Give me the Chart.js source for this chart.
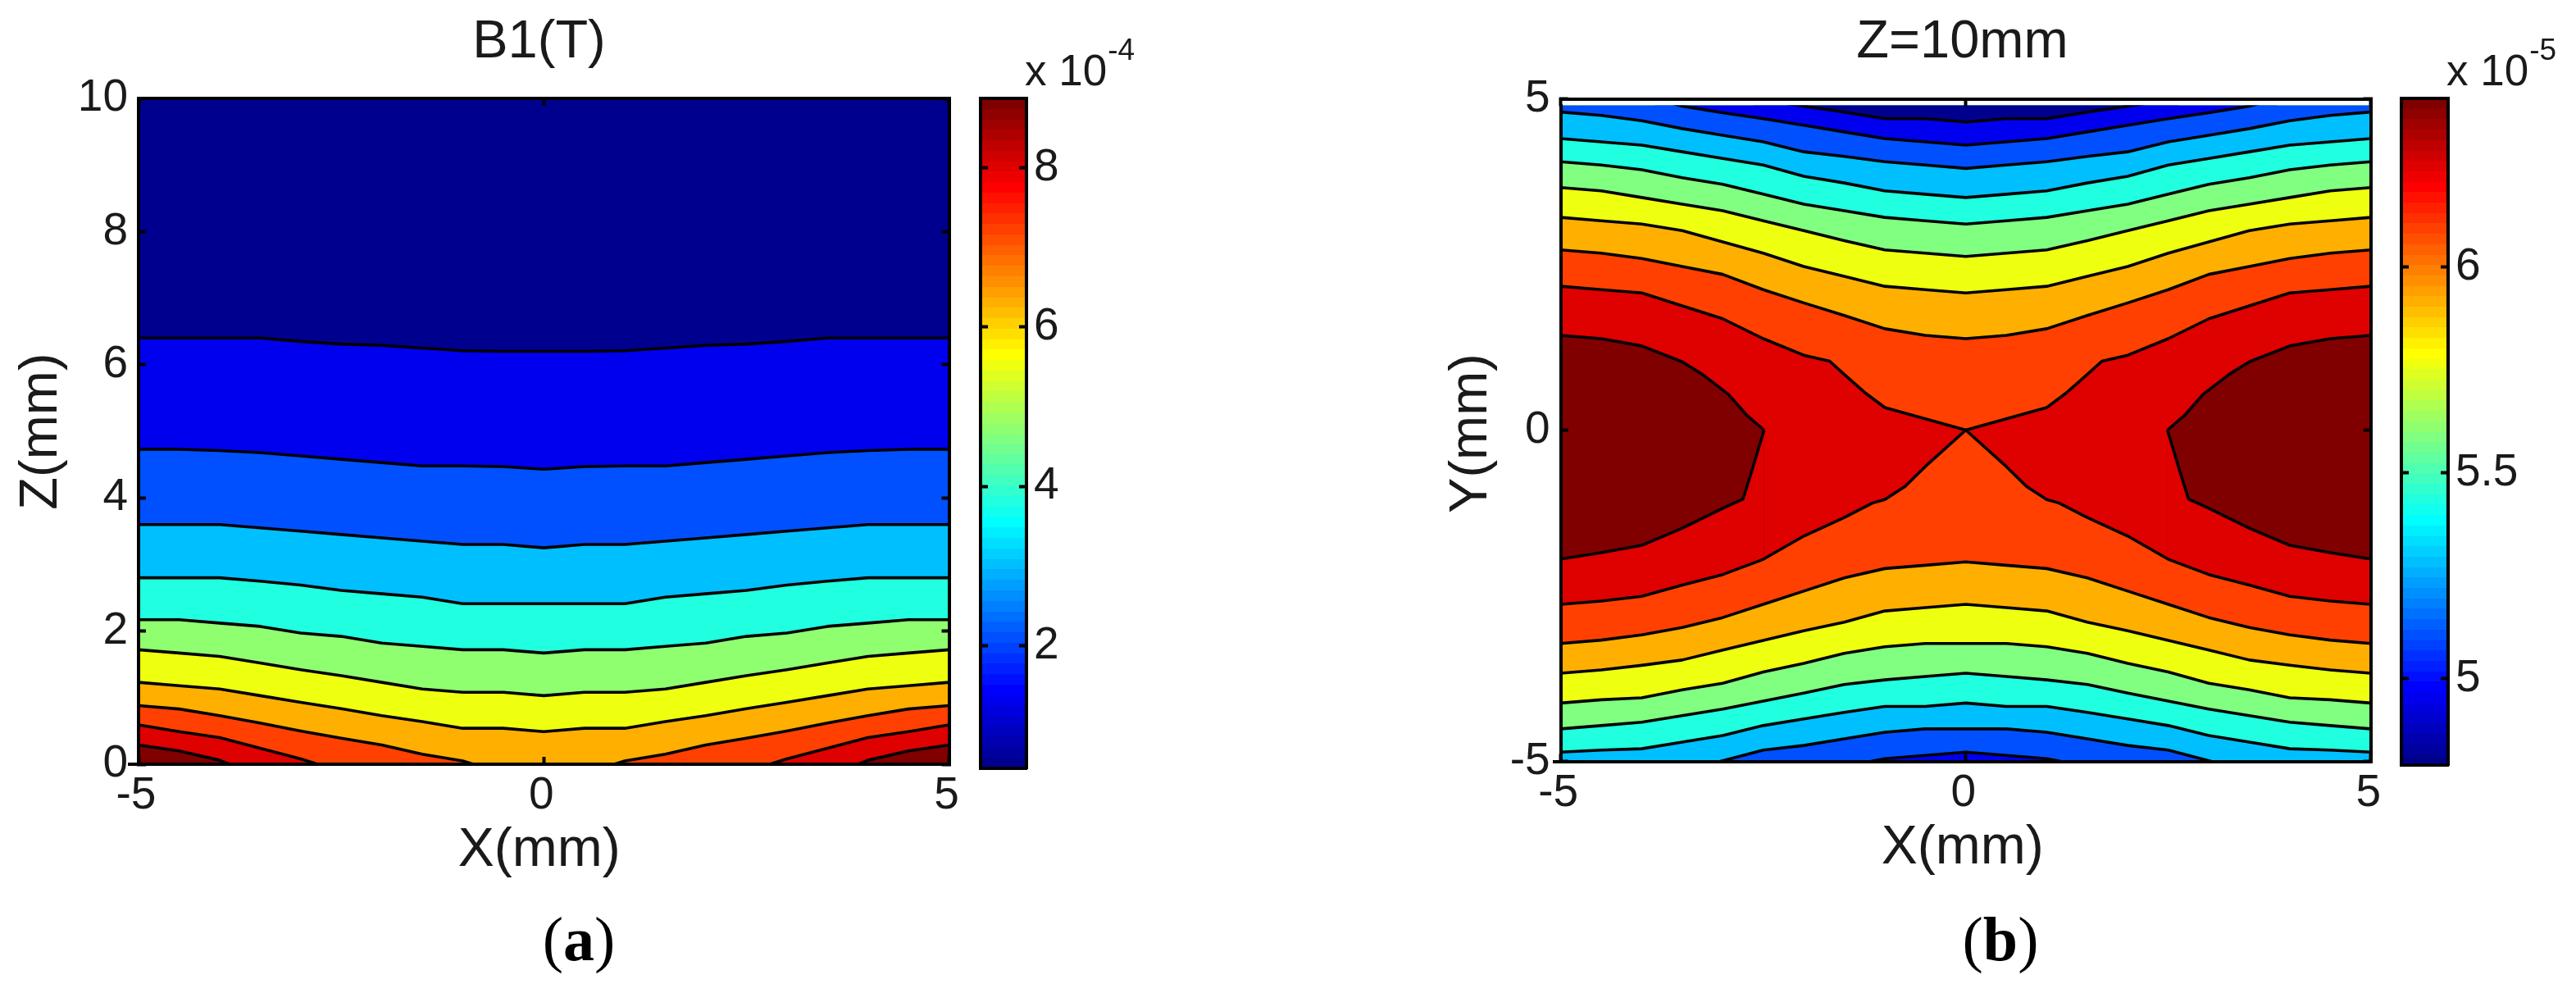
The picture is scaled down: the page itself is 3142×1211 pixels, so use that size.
<!DOCTYPE html>
<html><head><meta charset="utf-8">
<style>
html,body{margin:0;padding:0;background:#fff;width:3142px;height:1211px;overflow:hidden}
canvas{position:absolute;top:0}
.t{position:absolute;font-family:"Liberation Sans",Arial,sans-serif;color:#1a1a1a;white-space:nowrap;line-height:1}
.t sup{font-size:37px;position:relative;top:-31px;vertical-align:baseline;line-height:0;margin-left:1px}
.cap{position:absolute;font-family:"Liberation Serif",serif;color:#000;font-size:76px;line-height:1;white-space:nowrap;transform:translateX(-50%)}
</style>
<script src="https://cdn.jsdelivr.net/npm/chart.js@4/dist/chart.umd.js"></script>
</head><body>
<canvas id="pa"></canvas><canvas id="pb"></canvas><canvas id="ca"></canvas><canvas id="cb"></canvas>
<div class="t" style="left:1250px;top:59px;font-size:53px">x 10<sup>-4</sup></div>
<div class="t" style="left:2984px;top:59px;font-size:53px">x 10<sup>-5</sup></div>
<div class="cap" style="left:706px;top:1107px">(<b>a</b>)</div>
<div class="cap" style="left:2440px;top:1107px">(<b>b</b>)</div>
<script>
// ---------- Tick labels ----------
const aXTicks=[-5,0,5];
const aYTicks=[0,2,4,6,8,10];
const bXTicks=[-5,0,5];
const bYTicks=[-5,0,5];
const aBarTicks=[2,4,6,8];
const bBarTicks=[5,5.5,6];
const aBarRange=[0.46,8.87];
const bBarRange=[4.79,6.41];

// ---------- Colormap (jet, 64 levels, low to high) ----------
const jet=['#00008F','#00009F','#0000AF','#0000BF','#0000CF','#0000DF','#0000EF','#0000FF','#0010FF','#0020FF','#0030FF','#0040FF','#0050FF','#0060FF','#0070FF','#0080FF','#008FFF','#009FFF','#00AFFF','#00BFFF','#00CFFF','#00DFFF','#00EFFF','#00FFFF','#10FFEF','#20FFDF','#30FFCF','#40FFBF','#50FFAF','#60FF9F','#70FF8F','#80FF80','#8FFF70','#9FFF60','#AFFF50','#BFFF40','#CFFF30','#DFFF20','#EFFF10','#FFFF00','#FFEF00','#FFDF00','#FFCF00','#FFBF00','#FFAF00','#FF9F00','#FF8F00','#FF8000','#FF7000','#FF6000','#FF5000','#FF4000','#FF3000','#FF2000','#FF1000','#FF0000','#EF0000','#DF0000','#CF0000','#BF0000','#AF0000','#9F0000','#8F0000','#800000'];

// ---------- Panel (a): contour lines, Z at each X ----------
const aX=[-5,-4.5,-4,-3.5,-3,-2.5,-2,-1.5,-1,-0.5,0,0.5,1,1.5,2,2.5,3,3.5,4,4.5,5];
const aC1=[6.40,6.40,6.40,6.40,6.35,6.31,6.29,6.25,6.21,6.20,6.20,6.20,6.21,6.25,6.29,6.31,6.35,6.40,6.40,6.40,6.40];
const aC2=[4.73,4.73,4.71,4.68,4.63,4.58,4.53,4.48,4.48,4.47,4.43,4.47,4.48,4.48,4.53,4.58,4.63,4.68,4.71,4.73,4.73];
const aC3=[3.60,3.60,3.60,3.55,3.50,3.45,3.40,3.35,3.30,3.30,3.25,3.30,3.30,3.35,3.40,3.45,3.50,3.55,3.60,3.60,3.60];
const aC4=[2.80,2.80,2.80,2.75,2.69,2.61,2.56,2.51,2.41,2.41,2.41,2.41,2.41,2.51,2.56,2.61,2.69,2.75,2.80,2.80,2.80];
const aC5=[2.17,2.17,2.12,2.07,1.97,1.92,1.82,1.77,1.72,1.72,1.67,1.72,1.72,1.77,1.82,1.92,1.97,2.07,2.12,2.17,2.17];
const aC6=[1.72,1.67,1.62,1.52,1.42,1.33,1.23,1.13,1.08,1.08,1.03,1.08,1.08,1.13,1.23,1.33,1.42,1.52,1.62,1.67,1.72];
const aC7=[1.23,1.18,1.13,1.03,0.93,0.835,0.73,0.64,0.54,0.54,0.49,0.54,0.54,0.64,0.73,0.835,0.93,1.03,1.13,1.18,1.23];
const aC8X=[-5,-4.5,-4,-3.5,-3,-2.5,-2,-1.5,-1,-0.87,0.87,1,1.5,2,2.5,3,3.5,4,4.5,5];
const aC8=[0.88,0.83,0.73,0.62,0.50,0.39,0.29,0.15,0.05,0,0,0.05,0.15,0.29,0.39,0.50,0.62,0.73,0.83,0.88];
const aC9X=[-5,-4.5,-4,-3.5,-3,-2.79,2.79,3,3.5,4,4.5,5];
const aC9=[0.59,0.49,0.40,0.24,0.08,0,0,0.08,0.24,0.40,0.49,0.59];
const aC10X=[-5,-4.5,-4,-3.88,3.88,4,4.5,5];
const aC10=[0.29,0.20,0.06,0,0,0.06,0.20,0.29];

// ---------- Panel (b): upper contour lines, Y at each X ----------
const bTAX=[-2.63,-2,-1.5,-1,-0.5,0,0.5,1,1.5,2,2.63];
const bTA=[5,4.89,4.80,4.70,4.70,4.65,4.70,4.70,4.80,4.89,5];
const bTBX=[-3.84,-3.5,-3,-2.5,-2,-1.5,-1,-0.5,0,0.5,1,1.5,2,2.5,3,3.5,3.84];
const bTB=[5,4.89,4.79,4.70,4.60,4.50,4.40,4.35,4.30,4.35,4.40,4.50,4.60,4.70,4.79,4.89,5];
const bTX=[-5,-4.5,-4,-3.5,-3,-2.5,-2,-1.5,-1,-0.5,0,0.5,1,1.5,2,2.5,3,3.5,4,4.5,5];
const bTC=[4.80,4.75,4.67,4.55,4.45,4.35,4.20,4.13,4.05,4.00,3.95,4.00,4.05,4.13,4.20,4.35,4.45,4.55,4.67,4.75,4.80];
const bTD=[4.40,4.35,4.30,4.20,4.10,4.00,3.83,3.73,3.61,3.56,3.51,3.56,3.61,3.73,3.83,4.00,4.10,4.20,4.30,4.35,4.40];
const bTE=[4.05,4.00,3.93,3.81,3.71,3.56,3.41,3.31,3.21,3.16,3.11,3.16,3.21,3.31,3.41,3.56,3.71,3.81,3.93,4.00,4.05];
const bTF=[3.66,3.61,3.51,3.41,3.31,3.16,3.01,2.86,2.72,2.67,2.62,2.67,2.72,2.86,3.01,3.16,3.31,3.41,3.51,3.61,3.66];
const bTG=[3.21,3.16,3.11,3.01,2.84,2.67,2.47,2.32,2.17,2.12,2.07,2.12,2.17,2.32,2.47,2.67,2.84,3.01,3.11,3.16,3.21];
const bTHX=[-5,-4.5,-4,-3.5,-3,-2.5,-2,-1.5,-1,-0.5,0,0.5,1,1.5,2,2.5,3,3.5,4,4.5,5];
const bTH=[2.72,2.67,2.59,2.47,2.35,2.12,1.92,1.73,1.53,1.43,1.38,1.43,1.53,1.73,1.92,2.12,2.35,2.47,2.59,2.67,2.72];
const bTIX=[-5,-4.5,-4,-3.5,-3,-2.5,-2,-1.68,-1.5,-1.25,-1,-0.5,0,0.5,1,1.25,1.5,1.68,2,2.5,3,3.5,4,4.5,5];
const bTI=[2.17,2.12,2.07,1.875,1.68,1.38,1.13,1.04,0.84,0.57,0.34,0.17,0,0.17,0.34,0.57,0.84,1.04,1.13,1.38,1.68,1.875,2.07,2.12,2.17];

// ---------- Panel (b): closed high-field lobes ----------
const bLobeUX=[-5,-4.5,-4,-3.5,-3.25,-2.93,-2.7,-2.49];
const bLobeU=[1.43,1.38,1.27,1.03,0.84,0.54,0.22,0];
const bLobeDX=[-5,-4.5,-4,-3.5,-3,-2.75,-2.65,-2.49];
const bLobeD=[-1.945,-1.85,-1.74,-1.48,-1.18,-1.04,-0.65,0];
const bLobeRUX=[2.49,2.7,2.93,3.25,3.5,4,4.5,5];
const bLobeRU=[0,0.22,0.54,0.84,1.03,1.27,1.38,1.43];
const bLobeRDX=[2.49,2.65,2.75,3,3.5,4,4.5,5];
const bLobeRD=[0,-0.65,-1.04,-1.18,-1.48,-1.74,-1.85,-1.945];

// ---------- Panel (b): lower contour lines ----------
const bLIX=[-5,-4.5,-4,-3.5,-3,-2.5,-2,-1.5,-1.15,-1,-0.75,-0.5,0,0.5,0.75,1,1.15,1.5,2,2.5,3,3.5,4,4.5,5];
const bLI=[-2.63,-2.58,-2.51,-2.34,-2.18,-1.95,-1.60,-1.32,-1.10,-1.05,-0.85,-0.55,0,-0.55,-0.85,-1.05,-1.10,-1.32,-1.60,-1.95,-2.18,-2.34,-2.51,-2.58,-2.63];
const bLX=[-5,-4.5,-4,-3.5,-3,-2.5,-2,-1.5,-1,-0.5,0,0.5,1,1.5,2,2.5,3,3.5,4,4.5,5];
const bLH=[-3.22,-3.17,-3.09,-2.98,-2.83,-2.63,-2.43,-2.23,-2.09,-2.04,-1.99,-2.04,-2.09,-2.23,-2.43,-2.63,-2.83,-2.98,-3.09,-3.17,-3.22];
const bLG=[-3.67,-3.62,-3.55,-3.47,-3.32,-3.175,-3.03,-2.90,-2.73,-2.68,-2.63,-2.68,-2.73,-2.90,-3.03,-3.175,-3.32,-3.47,-3.55,-3.62,-3.67];
const bLF=[-4.12,-4.07,-4.04,-3.92,-3.82,-3.65,-3.52,-3.37,-3.27,-3.22,-3.22,-3.22,-3.27,-3.37,-3.52,-3.65,-3.82,-3.92,-4.04,-4.07,-4.12];
const bLE=[-4.51,-4.46,-4.41,-4.31,-4.21,-4.09,-3.97,-3.84,-3.77,-3.72,-3.67,-3.72,-3.77,-3.84,-3.97,-4.09,-4.21,-4.31,-4.41,-4.46,-4.51];
const bLD=[-4.86,-4.83,-4.81,-4.71,-4.61,-4.46,-4.36,-4.26,-4.17,-4.17,-4.12,-4.17,-4.17,-4.26,-4.36,-4.46,-4.61,-4.71,-4.81,-4.83,-4.86];
const bLCX=[-3.03,-2.75,-2.5,-2,-1.5,-1,-0.5,0,0.5,1,1.5,2,2.5,2.75,3.03];
const bLC=[-5,-4.91,-4.83,-4.76,-4.66,-4.56,-4.51,-4.51,-4.51,-4.56,-4.66,-4.76,-4.83,-4.91,-5];
const bLBX=[-1.17,-1,-0.5,0,0.5,1,1.17];
const bLB=[-5,-4.96,-4.91,-4.86,-4.91,-4.96,-5];

// ---------- Band colours ----------
const NAVY='#00008F',BLUE='#0000EF',AZURE='#0050FF',SKY='#00BFFF',TEAL='#20FFDF',GREEN_A='#8FFF70',GREEN_B='#80FF80',YEL='#EFFF10',AMB='#FFAF00',ORG='#FF4000',RED='#DF0000',DARK='#800000';

const FONT='"Liberation Sans",Arial,sans-serif', INK='#1a1a1a';
const LW=3.6, FR=4, TL=-9;
Chart.defaults.font.family=FONT;

function band(xs,ys,color,fill,lw){
  return {type:'line',data:xs.map((x,i)=>({x,y:ys[i]})),fill,backgroundColor:color,
    borderColor:'#000',borderWidth:lw===undefined?LW:lw,pointRadius:0,tension:0,clip:0,borderJoinStyle:'round'};
}
function axis(position,min,max,tickList,size,show,pad,extra){
  return Object.assign({type:'linear',position,min,max,
    afterBuildTicks:s=>{s.ticks=tickList.map(v=>({value:v}));},
    afterFit:s=>{if(s.isHorizontal())s.height=size;else s.width=size;},
    ticks:{display:show,padding:pad,color:INK,font:{size:55,family:FONT},autoSkip:false,maxRotation:0,minRotation:0,labelOffset:0,z:3,callback:v=>String(v)},
    grid:{display:true,drawOnChartArea:false,drawTicks:true,tickLength:TL,tickWidth:FR,tickColor:'#000',z:3},
    border:{display:true,color:'#000',width:FR,z:3}},extra||{});
}
function nudge(dxLabel,dxTitle,dyLabel){
  return {id:'nudge',afterLayout(c){
    c.scales.x.left+=2*dxLabel;
    c.scales.y.top+=2*dyLabel;
    if(c.titleBlock){c.titleBlock.left+=2*dxTitle;}
  }};
}
function plot(id,left,width,chartL,chartR,chartT,chartB,xr,yr,xt,yt,title,xlabel,ylabel,yTitlePad,sets,nd){
  const cv=document.getElementById(id);
  cv.width=width;cv.height=1211;cv.style.left=left+'px';cv.style.width=width+'px';cv.style.height='1211px';
  const ctx=cv.getContext('2d');
  const xa=axis('bottom',xr[0],xr[1],xt,1211-chartB,true,15,{title:{display:true,text:xlabel,color:INK,font:{size:66,family:FONT,lineHeight:1},padding:{top:0,bottom:1211-(chartB+106)-33}}});
  xa.ticks.labelOffset=-3;
  return new Chart(ctx,{type:'line',data:{datasets:sets.slice().reverse()},plugins:[nd],options:{
    responsive:false,animation:false,devicePixelRatio:1,parsing:true,normalized:true,
    layout:{padding:0},
    plugins:{legend:{display:false},tooltip:{enabled:false},
      title:{display:true,text:title,color:INK,font:{size:65,weight:'normal',family:FONT,lineHeight:1},padding:{top:19.5,bottom:chartT-65-19.5}}},
    scales:{
      x:xa,
      x2:axis('top',xr[0],xr[1],xt,0,false,0),
      y:axis('left',yr[0],yr[1],yt,chartL,true,22,{title:{display:true,text:ylabel,color:INK,font:{size:65,family:FONT,lineHeight:1},padding:{top:yTitlePad,bottom:0}}}),
      y2:axis('right',yr[0],yr[1],yt,width-chartR,false,0)
    }
  }});
}
function colorbar(id,left,barL,barR,top,bottom,range,ticks){
  const W=262;
  const cv=document.getElementById(id);
  cv.width=W;cv.height=1211;cv.style.left=left+'px';cv.style.width=W+'px';cv.style.height='1211px';
  return new Chart(cv.getContext('2d'),{type:'bar',
    data:{labels:[''],datasets:[{data:[range],barPercentage:1,categoryPercentage:1,borderWidth:0,borderSkipped:false,
      backgroundColor:(c)=>{
        const a=c.chart.chartArea; if(!a) return jet[0];
        const g=c.chart.ctx.createLinearGradient(0,a.bottom,0,a.top);
        jet.forEach((col,i)=>{g.addColorStop(i/jet.length,col);g.addColorStop((i+1)/jet.length,col);});
        return g;
      }}]},
    options:{responsive:false,animation:false,devicePixelRatio:1,layout:{padding:{top,bottom:1211-bottom}},
      plugins:{legend:{display:false},tooltip:{enabled:false}},
      scales:{
        x:{type:'category',position:'bottom',afterFit:s=>{s.height=0;},ticks:{display:false},grid:{display:false,drawTicks:false},border:{display:true,color:'#000',width:FR,z:3}},
        x2:axis('top',0,1,[],0,false,0),
        y:axis('left',range[0],range[1],ticks,barL,false,0),
        y2:axis('right',range[0],range[1],ticks,W-barR,true,18)
      }}});
}

// paint order: each later set sits on top of the earlier ones
const aSets=[
  band([-5,5],[10,10],NAVY,'start',0),
  band(aX,aC1,BLUE,'start'),band(aX,aC2,AZURE,'start'),band(aX,aC3,SKY,'start'),band(aX,aC4,TEAL,'start'),
  band(aX,aC5,GREEN_A,'start'),band(aX,aC6,YEL,'start'),band(aX,aC7,AMB,'start'),
  band(aC8X,aC8,ORG,'start'),band(aC9X,aC9,RED,'start'),band(aC10X,aC10,DARK,'start')
];
const bSets=[
  band([-5,5],[5,5],RED,'start',0),
  band(bLobeUX,bLobeU,DARK,'start'),band(bLobeRUX,bLobeRU,DARK,'start'),
  band(bLobeDX,bLobeD,RED,'start'),band(bLobeRDX,bLobeRD,RED,'start'),
  band(bTIX,bTI,ORG,'end'),band(bTHX,bTH,AMB,'end'),band(bTX,bTG,YEL,'end'),band(bTX,bTF,GREEN_B,'end'),
  band(bTX,bTE,TEAL,'end'),band(bTX,bTD,SKY,'end'),band(bTX,bTC,AZURE,'end'),band(bTBX,bTB,BLUE,'end'),band(bTAX,bTA,NAVY,'end'),
  band(bLIX,bLI,ORG,'start'),band(bLX,bLH,AMB,'start'),band(bLX,bLG,YEL,'start'),band(bLX,bLF,GREEN_B,'start'),
  band(bLX,bLE,TEAL,'start'),band(bLX,bLD,SKY,'start'),band(bLCX,bLC,AZURE,'start'),band(bLBX,bLB,BLUE,'start')
];
plot('pa',0,1571,169,1157.5,120,932,[-5,5],[0,10],aXTicks,aYTicks,'B1(T)','X(mm)','Z(mm)',19,aSets,nudge(-5.5,-128,0));
plot('pb',1571,1571,332.7,1320.7,120.5,928.5,[-5,5],[-5,5],bXTicks,bYTicks,'Z=10mm','X(mm)','Y(mm)',192,bSets,nudge(-4,37,4));
colorbar('ca',1150,46,102,120,937,aBarRange,aBarTicks);
colorbar('cb',2880,49,106,120,933,bBarRange,bBarTicks);
</script>
</body></html>
